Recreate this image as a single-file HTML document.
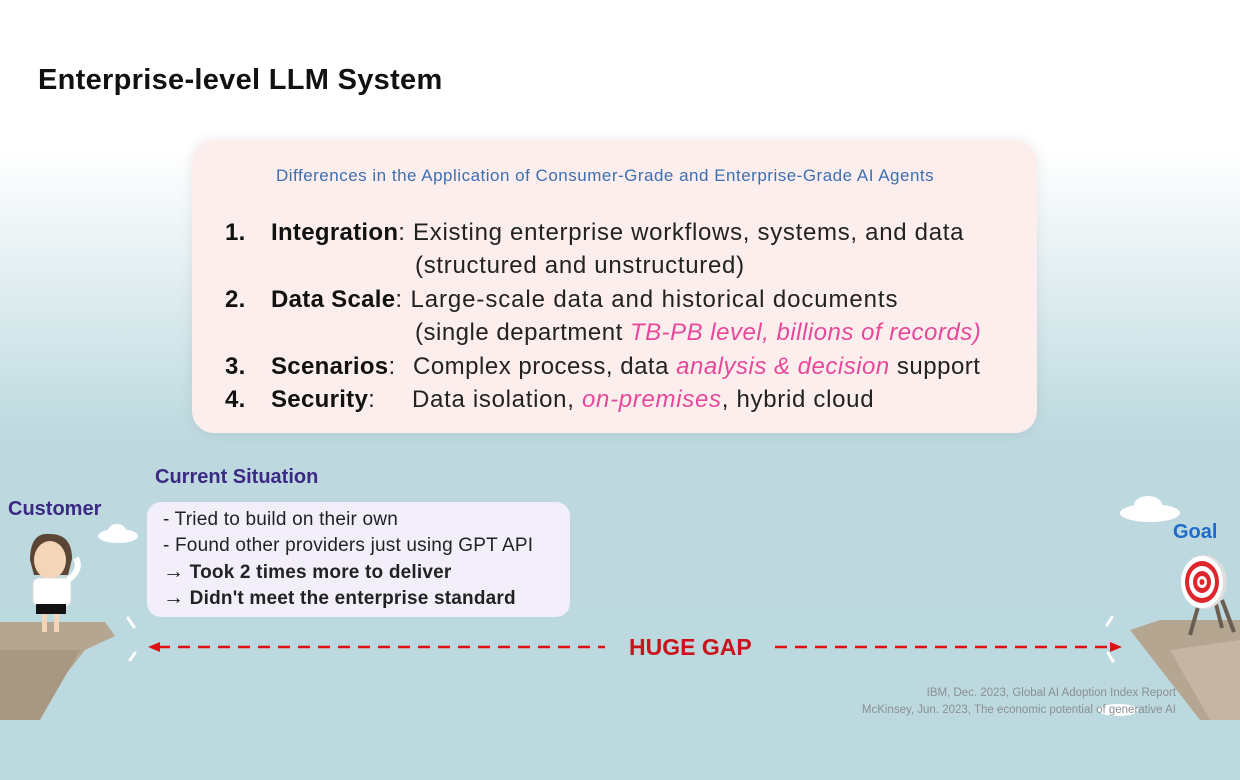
<!DOCTYPE html>
<html><head><meta charset="utf-8"><style>
body{margin:0;width:1240px;height:780px;overflow:hidden;font-family:"Liberation Sans",sans-serif;
background:linear-gradient(#fff 0px,#fff 150px,#e9f2f4 250px,#c9e1e5 380px,#bdd9df 440px,#bcd9df 780px);position:relative}
.a{position:absolute;white-space:nowrap}
.box{position:absolute;left:192px;top:140px;width:845px;height:293px;border-radius:22px;background:#fdeeee;box-shadow:0 0 14px rgba(0,0,0,.08)}
.li{font-size:24px;letter-spacing:0.7px;color:#222}
.li b{color:#111;letter-spacing:0.3px}
.pk{color:#e8489a;font-style:italic}
.cs{position:absolute;left:147px;top:502px;width:423px;height:115px;border-radius:14px;background:#f3effa}
.cs div{position:absolute;left:16px;font-size:19px;line-height:22px;letter-spacing:0.2px;color:#222;white-space:nowrap}
</style></head><body>
<svg width="1240" height="780" style="position:absolute;left:0;top:0">
<g fill="#fff"><ellipse cx="118" cy="536" rx="20" ry="7"/><ellipse cx="117" cy="531" rx="9" ry="7"/>
<ellipse cx="1150" cy="513" rx="30" ry="9"/><ellipse cx="1148" cy="505" rx="14" ry="9"/>
<ellipse cx="1118" cy="710" rx="20" ry="6"/></g>
</svg>
<div class="a" style="left:38px;top:64px;font-size:29px;font-weight:bold;color:#111;letter-spacing:0.3px">Enterprise-level LLM System</div>
<div class="box"></div>
<div class="a" style="left:276px;top:166px;font-size:17px;letter-spacing:0.5px;color:#3d6fb0">Differences in the Application of Consumer-Grade and Enterprise-Grade AI Agents</div>
<div class="a li" style="left:225px;top:219px"><b>1.</b></div>
<div class="a li" style="left:271px;top:219px"><b>Integration</b>: Existing enterprise workflows, systems, and data</div>
<div class="a li" style="left:415px;top:252px">(structured and unstructured)</div>
<div class="a li" style="left:225px;top:286px"><b>2.</b></div>
<div class="a li" style="left:271px;top:286px;letter-spacing:0.9px"><b>Data Scale</b>: Large-scale data and historical documents</div>
<div class="a li" style="left:415px;top:319px;letter-spacing:0.5px">(single department <span class="pk">TB-PB level, billions of records)</span></div>
<div class="a li" style="left:225px;top:353px"><b>3.</b></div>
<div class="a li" style="left:271px;top:353px"><b>Scenarios</b>:</div>
<div class="a li" style="left:413px;top:353px;letter-spacing:0.5px">Complex process, data <span class="pk">analysis &amp; decision</span> support</div>
<div class="a li" style="left:225px;top:386px"><b>4.</b></div>
<div class="a li" style="left:271px;top:386px"><b>Security</b>:</div>
<div class="a li" style="left:412px;top:386px">Data isolation, <span class="pk">on-premises</span>, hybrid cloud</div>

<div class="a" style="left:155px;top:466px;font-size:20px;font-weight:bold;color:#3b2a83">Current Situation</div>
<div class="a" style="left:8px;top:498px;font-size:20px;font-weight:bold;color:#3b2a83">Customer</div>
<div class="a" style="left:1173px;top:521px;font-size:20px;font-weight:bold;color:#1e6bc8">Goal</div>
<div class="cs">
<div style="top:7px">- Tried to build on their own</div>
<div style="top:33px">- Found other providers just using GPT API</div>
<div style="top:59px;font-weight:bold"><span style="font-size:21px">→</span> Took 2 times more to deliver</div>
<div style="top:85px;font-weight:bold"><span style="font-size:21px">→</span> Didn't meet the enterprise standard</div>
</div>
<div class="a" style="left:629px;top:634px;font-size:23px;font-weight:bold;color:#c8141c">HUGE GAP</div>
<div class="a" style="right:64px;top:685px;font-size:11.5px;color:#8a8f93;text-align:right;line-height:17px">IBM, Dec. 2023, Global AI Adoption Index Report<br>McKinsey, Jun. 2023, The economic potential of generative AI</div>

<svg width="1240" height="780" style="position:absolute;left:0;top:0">
<g stroke="#d11" stroke-width="2.5" stroke-dasharray="12,8">
<line x1="158" y1="647" x2="605" y2="647"/><line x1="775" y1="647" x2="1112" y2="647"/></g>
<path d="M148 647l12-5v10z M1122 647l-12-5v10z" fill="#d11"/>
<g stroke="#fff" stroke-width="3" stroke-linecap="round">
<line x1="128" y1="618" x2="134" y2="627"/><line x1="130" y1="660" x2="135" y2="653"/>
<line x1="1112" y1="617" x2="1107" y2="625"/><line x1="1108" y1="653" x2="1113" y2="661"/></g>
<polygon points="0,622 105,622 115,636 85,650 30,720 0,720" fill="#b5a692"/>
<polygon points="0,650 80,650 40,720 0,720" fill="#a89882"/>
<polygon points="1130,630 1160,620 1240,620 1240,720 1200,720" fill="#b5a692"/>
<polygon points="1170,650 1240,640 1240,720 1210,720" fill="#c4b6a2"/>
<g stroke="#6b5d52" stroke-width="4"><line x1="1200" y1="600" x2="1190" y2="635"/><line x1="1215" y1="600" x2="1222" y2="628"/><line x1="1222" y1="600" x2="1234" y2="632"/></g>
<ellipse cx="1204" cy="582" rx="23" ry="27" fill="#ddd"/>
<ellipse cx="1202" cy="582" rx="21" ry="26" fill="#fff"/>
<ellipse cx="1202" cy="582" rx="17" ry="21" fill="#e0262d"/>
<ellipse cx="1202" cy="582" rx="13" ry="16" fill="#fff"/>
<ellipse cx="1202" cy="582" rx="9" ry="11" fill="#e0262d"/>
<ellipse cx="1202" cy="582" rx="5" ry="6" fill="#fff"/>
<ellipse cx="1202" cy="582" rx="2.5" ry="3" fill="#e0262d"/>
<path d="M30 560q0-28 20-26q22 0 22 25l-4 16h-34z" fill="#5b4635"/>
<ellipse cx="50" cy="560" rx="16" ry="19" fill="#f5d5b8"/>
<rect x="33" y="578" width="38" height="28" rx="6" fill="#fff" stroke="#ddd"/>
<rect x="36" y="604" width="30" height="10" fill="#111"/>
<rect x="42" y="614" width="5" height="18" fill="#f5d5b8"/><rect x="54" y="614" width="5" height="18" fill="#f5d5b8"/>
<path d="M68 580q14-10 8-22" stroke="#fff" stroke-width="6" fill="none"/>
</svg>
</body></html>
